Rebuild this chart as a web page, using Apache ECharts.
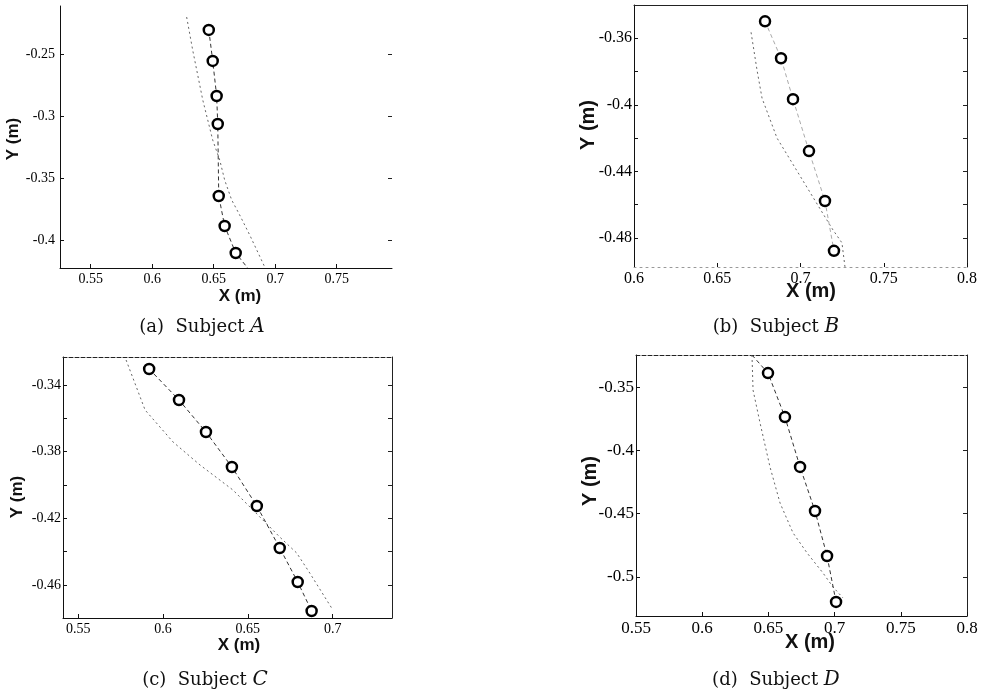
<!DOCTYPE html>
<html>
<head>
<meta charset="utf-8">
<script src="https://cdn.jsdelivr.net/npm/echarts@6/dist/echarts.min.js"></script>
<style>
  html, body { margin: 0; padding: 0; background: #fff; }
  #chart { width: 981px; height: 694px; }
</style>
</head>
<body>
<div id="chart"></div>
<script>
// Subject A - measured points, line through them, and the second curve
var aPointX = [0.646, 0.6492, 0.6524, 0.6533, 0.6541, 0.6589, 0.6679];
var aPointY = [-0.2306, -0.2556, -0.2839, -0.3065, -0.3645, -0.3887, -0.4105];
var aLineX = [0.646, 0.6492, 0.6524, 0.6533, 0.6541, 0.6589, 0.6679, 0.6776];
var aLineY = [-0.2306, -0.2556, -0.2839, -0.3065, -0.3645, -0.3887, -0.4105, -0.4226];
var aCurveX = [0.628, 0.6329, 0.6411, 0.6492, 0.6549, 0.6589, 0.6646, 0.6711, 0.6793, 0.6915];
var aCurveY = [-0.2202, -0.2468, -0.2871, -0.3194, -0.3355, -0.3516, -0.3677, -0.3798, -0.396, -0.4218];
var aXTicks = [0.55, 0.6, 0.65, 0.7, 0.75];
var aYTicks = [-0.25, -0.3, -0.35, -0.4];

// Subject B
var bPointX = [0.6787, 0.6883, 0.6955, 0.7051, 0.7147, 0.7201];
var bPointY = [-0.3498, -0.372, -0.3966, -0.4278, -0.4578, -0.4878];
var bLineX = [0.6787, 0.6883, 0.6955, 0.7051, 0.7147, 0.7201];
var bLineY = [-0.3498, -0.372, -0.3966, -0.4278, -0.4578, -0.4878];
var bCurveX = [0.6703, 0.6739, 0.6769, 0.6859, 0.7147, 0.7195, 0.7249, 0.7267];
var bCurveY = [-0.3564, -0.3792, -0.396, -0.42, -0.4674, -0.4752, -0.483, -0.4974];
var bXTicks = [0.6, 0.65, 0.7, 0.75, 0.8];
var bYTicks = [-0.36, -0.4, -0.44, -0.48];
var bYMinor = [-0.36, -0.38, -0.4, -0.42, -0.44, -0.46, -0.48];

// Subject C
var cPointX = [0.5918, 0.6094, 0.6253, 0.6406, 0.6553, 0.6688, 0.6794, 0.6876];
var cPointY = [-0.3304, -0.349, -0.3682, -0.3892, -0.4126, -0.4378, -0.4582, -0.4756];
var cLineX = [0.5918, 0.6094, 0.6253, 0.6406, 0.6553, 0.6688, 0.6794, 0.6876];
var cLineY = [-0.3304, -0.349, -0.3682, -0.3892, -0.4126, -0.4378, -0.4582, -0.4756];
var cCurveX = [0.5782, 0.5894, 0.6059, 0.6218, 0.6412, 0.653, 0.6688, 0.6788, 0.6865, 0.6994];
var cCurveY = [-0.325, -0.355, -0.3742, -0.388, -0.403, -0.415, -0.4312, -0.4408, -0.4528, -0.4738];
var cXTicks = [0.55, 0.6, 0.65, 0.7];
var cYTicks = [-0.34, -0.38, -0.42, -0.46];
var cYMinor = [-0.34, -0.36, -0.38, -0.4, -0.42, -0.44, -0.46];

// Subject D
var dPointX = [0.6497, 0.6625, 0.6739, 0.6852, 0.6943, 0.7011];
var dPointY = [-0.339, -0.3737, -0.4131, -0.4479, -0.4834, -0.5197];
var dLineX = [0.6376, 0.6497, 0.6625, 0.6739, 0.6852, 0.6943, 0.7011];
var dLineY = [-0.3247, -0.339, -0.3737, -0.4131, -0.4479, -0.4834, -0.5197];
var dCurveX = [0.6376, 0.6384, 0.6437, 0.6512, 0.6588, 0.6686, 0.6792, 0.6912, 0.6988, 0.7063];
var dCurveY = [-0.3247, -0.3524, -0.3784, -0.4131, -0.4416, -0.4652, -0.481, -0.4968, -0.5079, -0.5165];
var dXTicks = [0.55, 0.6, 0.65, 0.7, 0.75, 0.8];
var dYTicks = [-0.35, -0.4, -0.45, -0.5];

function zip(xs, ys) {
  return xs.map(function (x, i) { return [x, ys[i]]; });
}
function fmt(v) {
  return String(+Number(v).toFixed(3));
}

// layout of the four small plots
var panels = [
  {
    grid: { left: 60, top: 6, width: 332, height: 262 },
    x: [0.525, 0.795], y: [-0.4226, -0.2113],
    xTicks: aXTicks, yTicks: aYTicks, yMinor: aYTicks,
    points: zip(aPointX, aPointY), line: zip(aLineX, aLineY), curve: zip(aCurveX, aCurveY),
    box: false, bottomFaint: false, tickSize: 14, nameSize: 17, lineColor: '#333',
    xName: [240, 296], yName: [13, 139], caption: [202, 327], letter: 'a', subject: 'A'
  },
  {
    grid: { left: 634, top: 5, width: 333, height: 262 },
    x: [0.6, 0.8], y: [-0.4975, -0.34],
    xTicks: bXTicks, yTicks: bYTicks, yMinor: bYMinor,
    points: zip(bPointX, bPointY), line: zip(bLineX, bLineY), curve: zip(bCurveX, bCurveY),
    box: true, bottomFaint: true, tickSize: 16, nameSize: 20, lineColor: '#aaa',
    xName: [811, 291], yName: [588, 125], caption: [776, 327], letter: 'b', subject: 'B'
  },
  {
    grid: { left: 63, top: 357, width: 329, height: 261 },
    x: [0.541, 0.735], y: [-0.4798, -0.3232],
    xTicks: cXTicks, yTicks: cYTicks, yMinor: cYMinor,
    points: zip(cPointX, cPointY), line: zip(cLineX, cLineY), curve: zip(cCurveX, cCurveY),
    box: true, bottomFaint: false, tickSize: 14, nameSize: 17, lineColor: '#333',
    xName: [239, 645], yName: [17, 497], caption: [205, 680], letter: 'c', subject: 'C'
  },
  {
    grid: { left: 636, top: 355, width: 331, height: 261 },
    x: [0.55, 0.8], y: [-0.5308, -0.3247],
    xTicks: dXTicks, yTicks: dYTicks, yMinor: dYTicks,
    points: zip(dPointX, dPointY), line: zip(dLineX, dLineY), curve: zip(dCurveX, dCurveY),
    box: true, bottomFaint: false, tickSize: 17, nameSize: 20, lineColor: '#333',
    xName: [810, 642], yName: [590, 481], caption: [776, 680], letter: 'd', subject: 'D'
  }
];

var serif = '"Liberation Serif", "Times New Roman", serif';
var sans = '"Liberation Sans", Arial, sans-serif';

var grids = [], xAxes = [], yAxes = [], series = [], graphics = [];

panels.forEach(function (p, i) {
  grids.push(p.grid);
  var axisLine = { lineStyle: { color: '#111', width: 1 } };
  var labelStyle = { fontFamily: serif, fontSize: p.tickSize, color: '#000', formatter: fmt };

  // bottom and top x axes
  xAxes.push({
    gridIndex: i, type: 'value', position: 'bottom', min: p.x[0], max: p.x[1],
    axisLine: p.bottomFaint ? { lineStyle: { color: '#999', width: 1, type: [2, 4] } } : axisLine,
    axisTick: { inside: true, length: 4, customValues: p.xTicks, lineStyle: { color: '#111' } },
    axisLabel: Object.assign({ margin: 4, customValues: p.xTicks }, labelStyle),
    splitLine: { show: false }
  });
  xAxes.push({
    gridIndex: i, type: 'value', position: 'top', min: p.x[0], max: p.x[1],
    axisLine: { show: p.box, lineStyle: { color: '#222', width: 1, type: i === 1 ? 'solid' : 'dashed' } },
    axisTick: { show: false },
    axisLabel: { show: false },
    splitLine: { show: false }
  });
  // left and right y axes
  yAxes.push({
    gridIndex: i, type: 'value', position: 'left', min: p.y[0], max: p.y[1],
    axisLine: axisLine,
    axisTick: { inside: true, length: 4, customValues: p.yMinor, lineStyle: { color: '#111' } },
    axisLabel: Object.assign({ margin: i === 0 ? 5 : 2, customValues: p.yTicks }, labelStyle),
    splitLine: { show: false }
  });
  yAxes.push({
    gridIndex: i, type: 'value', position: 'right', min: p.y[0], max: p.y[1],
    axisLine: { show: p.box, lineStyle: { color: '#222', width: 1 } },
    axisTick: { inside: true, length: 4, customValues: p.yMinor, lineStyle: { color: '#222' } },
    axisLabel: { show: false },
    splitLine: { show: false }
  });

  series.push({
    type: 'line', xAxisIndex: i * 2, yAxisIndex: i * 2, data: p.curve,
    symbol: 'none', z: 2,
    lineStyle: { color: '#666', width: 1, type: [2, 3] }
  });
  series.push({
    type: 'line', xAxisIndex: i * 2, yAxisIndex: i * 2, data: p.line,
    symbol: 'none', z: 2,
    lineStyle: { color: p.lineColor, width: 1, type: [4, 3] }
  });
  series.push({
    type: 'scatter', xAxisIndex: i * 2, yAxisIndex: i * 2, data: p.points,
    symbol: 'circle', symbolSize: 10, z: 3,
    itemStyle: { color: '#fff', borderColor: '#000', borderWidth: 2.5, opacity: 1 }
  });

  // axis names and captions
  graphics.push({
    type: 'text', x: p.xName[0], y: p.xName[1],
    style: { text: 'X (m)', font: 'bold ' + p.nameSize + 'px ' + sans, fill: '#111', align: 'center', verticalAlign: 'middle' }
  });
  graphics.push({
    type: 'text', x: p.yName[0], y: p.yName[1], rotation: Math.PI / 2,
    style: { text: 'Y (m)', font: 'bold ' + p.nameSize + 'px ' + sans, fill: '#111', align: 'center', verticalAlign: 'middle' }
  });
  graphics.push({
    type: 'text', x: p.caption[0], y: p.caption[1],
    style: {
      text: '(' + p.letter + ')  Subject {it|' + p.subject + '}',
      font: '18px "DejaVu Serif", serif', fill: '#111', align: 'center', verticalAlign: 'middle',
      rich: { it: { fontFamily: '"DejaVu Serif", serif', fontStyle: 'italic', fontSize: 20, fill: '#111' } }
    }
  });
});

var chart = echarts.init(document.getElementById('chart'), null, { renderer: 'canvas' });
chart.setOption({
  animation: false,
  backgroundColor: '#fff',
  grid: grids,
  xAxis: xAxes,
  yAxis: yAxes,
  series: series,
  graphic: graphics
});
</script>
</body>
</html>
